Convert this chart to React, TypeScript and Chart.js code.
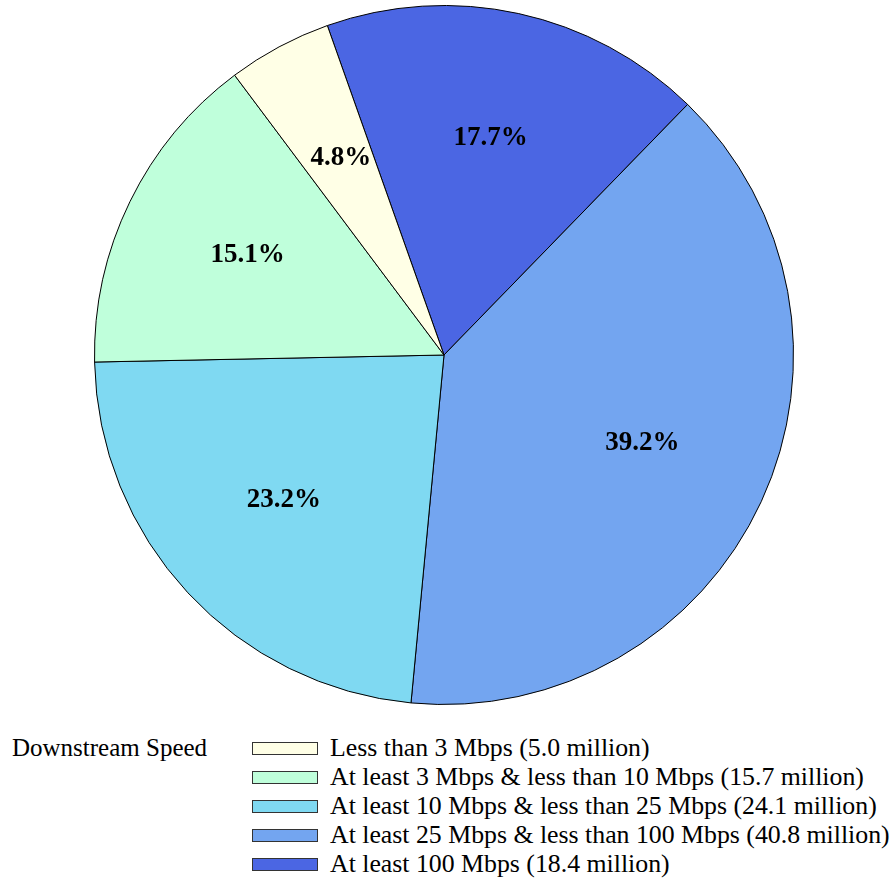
import React, { useEffect, useRef } from "react";
import { Chart, registerables } from "chart.js";

Chart.register(...registerables);

const legendTitle = "Downstream Speed";
const categories = [
  "Less than 3 Mbps",
  "At least 3 Mbps & less than 10 Mbps",
  "At least 10 Mbps & less than 25 Mbps",
  "At least 25 Mbps & less than 100 Mbps",
  "At least 100 Mbps",
];
const millions = [5.0, 15.7, 24.1, 40.8, 18.4];
const colors = ["#FFFFE6", "#BFFFDB", "#7FD9F2", "#73A5F0", "#4B66E3"];

const total = millions.reduce((a, b) => a + b, 0);

const sliceLabels = {
  id: "sliceLabels",
  afterDatasetsDraw(chart: any) {
    const ctx = chart.ctx;
    const meta = chart.getDatasetMeta(0);
    const data = chart.data.datasets[0].data as number[];
    ctx.save();
    ctx.font = "bold 27px 'Liberation Serif', 'Times New Roman', serif";
    ctx.fillStyle = "#000";
    ctx.textAlign = "center";
    ctx.textBaseline = "middle";
    meta.data.forEach((arc: any, i: number) => {
      const { x, y, startAngle, endAngle, outerRadius } = arc.getProps(
        ["x", "y", "startAngle", "endAngle", "outerRadius"],
        true
      );
      const mid = (startAngle + endAngle) / 2;
      const r = outerRadius * 0.625;
      const px = x + Math.cos(mid) * r;
      const py = y + Math.sin(mid) * r - 4;
      const pct = ((data[i] / total) * 100).toFixed(1) + "%";
      ctx.fillText(pct, px, py);
    });
    ctx.restore();
  },
};

export default function App() {
  const ref = useRef<HTMLCanvasElement>(null);
  useEffect(() => {
    if (!ref.current) return;
    const order = [4, 3, 2, 1, 0];
    const chart = new Chart(ref.current, {
      type: "pie",
      data: {
        labels: order.map((i) => categories[i]),
        datasets: [
          {
            data: order.map((i) => millions[i]),
            backgroundColor: order.map((i) => colors[i]),
            borderColor: "#000",
            borderWidth: 1,
          },
        ],
      },
      options: {
        animation: false,
        responsive: false,
        rotation: -19.5,
        layout: { padding: { left: 94, top: 5, right: 100, bottom: 15 } },
        plugins: {
          legend: { display: false },
          tooltip: { enabled: false },
        },
      },
      plugins: [sliceLabels],
    });
    return () => chart.destroy();
  }, []);

  const font = "'Liberation Serif', 'Times New Roman', serif";
  return (
    <div
      style={{
        position: "absolute",
        left: 0,
        top: 0,
        width: 894,
        height: 884,
        background: "#fff",
        fontFamily: font,
      }}
    >
      <canvas ref={ref} width={894} height={720} style={{ position: "absolute", left: 0, top: 0 }} />
      <div
        style={{
          position: "absolute",
          left: 12,
          top: 735,
          fontSize: 25,
          lineHeight: "26px",
          color: "#000",
          whiteSpace: "nowrap",
        }}
      >
        {legendTitle}
      </div>
      {categories.map((c, i) => (
        <div
          key={c}
          style={{
            position: "absolute",
            left: 252,
            top: 735 + i * 29,
            height: 26,
            display: "flex",
            alignItems: "center",
            whiteSpace: "nowrap",
          }}
        >
          <div
            style={{
              width: 64,
              height: 11,
              background: colors[i],
              border: "1px solid #333",
              marginRight: 12,
            }}
          />
          <span style={{ fontSize: 25.8, lineHeight: "26px" }}>
            {c} ({millions[i].toFixed(1)} million)
          </span>
        </div>
      ))}
    </div>
  );
}
